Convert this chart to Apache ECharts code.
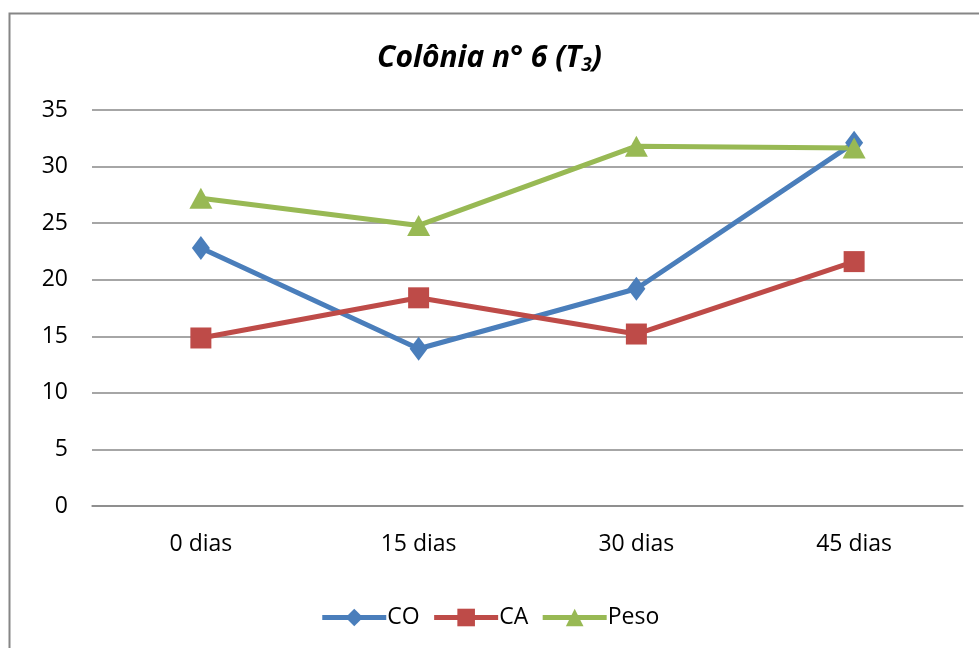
<!DOCTYPE html>
<html><head><meta charset="utf-8">
<script src="https://cdn.jsdelivr.net/npm/echarts@6/dist/echarts.min.js"></script>
<style>html,body{margin:0;padding:0;background:#fff}#c{width:979px;height:648px}</style>
</head><body><div id="c"></div>
<script>
const categories = ['0 dias', '15 dias', '30 dias', '45 dias'];
const coValues = [22.8, 13.9, 19.2, 32.1];
const caValues = [14.85, 18.4, 15.2, 21.6];
const pesoValues = [27.2, 24.8, 31.8, 31.65];
const yTicks = [0, 5, 10, 15, 20, 25, 30, 35];

const chart = echarts.init(document.getElementById('c'));
const font = 'Open Sans, Liberation Sans, sans-serif';
function mk(name, data, color, symbol, size) {
  return {name, type: 'line', data, symbol, symbolSize: size,
    lineStyle: {color, width: 5}, itemStyle: {color}, z: 3};
}
chart.setOption({
  animation: false,
  graphic: [{type: 'rect', shape: {x: 9.5, y: 13.5, width: 1000, height: 700},
    style: {fill: null, stroke: '#868686', lineWidth: 2}, z: -1}],
  title: {text: '{t|Colônia n° 6 (T}{s|3}{t|)}', left: 'center', top: 36,
    textStyle: {rich: {
      t: {fontFamily: font, fontSize: 30, fontWeight: 'bold', fontStyle: 'italic', color: '#000'},
      s: {fontFamily: font, fontSize: 19, fontWeight: 'bold', fontStyle: 'italic', color: '#000', verticalAlign: 'bottom', padding: [15, 0, 0, 0]}
    }}},
  legend: {bottom: 14, left: 'center', itemWidth: 64, itemHeight: 22, itemGap: 12,
    lineStyle: {width: 5},
    textStyle: {fontFamily: font, fontSize: 23, color: '#000', padding: [0, 0, 0, -4]},
    data: ['CO', 'CA', 'Peso']},
  grid: {left: 92, right: 16, top: 110, bottom: 142},
  xAxis: {type: 'category', data: categories, boundaryGap: true,
    axisLine: {lineStyle: {color: '#888', width: 1.5}}, axisTick: {show: false},
    axisLabel: {fontFamily: font, fontSize: 23, color: '#000', margin: 27}},
  yAxis: {type: 'value', min: yTicks[0], max: yTicks[yTicks.length - 1], interval: 5,
    axisLine: {show: false}, axisTick: {show: false},
    axisLabel: {fontFamily: font, fontSize: 23, color: '#000', margin: 24},
    splitLine: {lineStyle: {color: '#888', width: 1.5}}},
  series: [
    mk('CO', coValues, '#4a7ebb', 'diamond', [18, 24]),
    mk('CA', caValues, '#be4b48', 'rect', 21),
    mk('Peso', pesoValues, '#98b954', 'triangle', [23, 21])
  ]
});
</script></body></html>
